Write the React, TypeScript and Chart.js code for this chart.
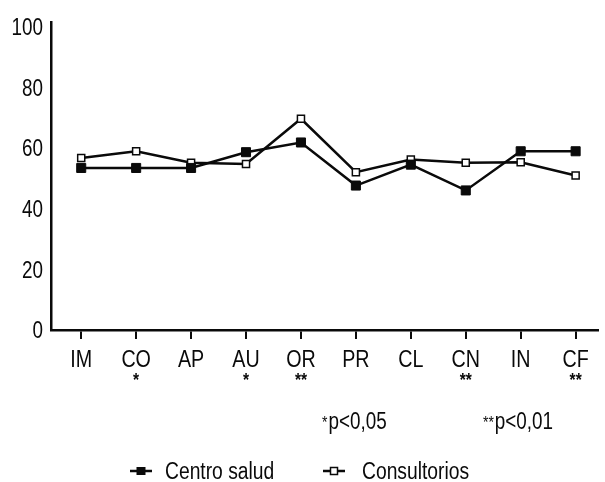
import React, { useEffect, useRef } from "react";
import { Chart, registerables } from "chart.js";

Chart.register(...registerables);

const categories = ["IM", "CO", "AP", "AU", "OR", "PR", "CL", "CN", "IN", "CF"];
const significance = ["", "*", "", "*", "**", "", "", "**", "", "**"];
const centroSalud = [53.4, 53.4, 53.4, 58.6, 61.8, 47.6, 54.5, 46.0, 58.9, 58.9];
const consultorios = [56.7, 58.9, 55.1, 54.7, 69.6, 52.0, 56.2, 55.1, 55.3, 50.9];
const yTicks = [0, 20, 40, 60, 80, 100];
const seriesNames = ["Centro salud", "Consultorios"];
const pStars = ["*", "**"];
const pTexts = ["p<0,05", "p<0,01"];

const FF = "'Liberation Sans', Arial, sans-serif";
const INK = "#0a0a0a";
const NARROW = 0.82;

function narrowText(
  ctx: CanvasRenderingContext2D,
  text: string,
  x: number,
  y: number,
  size: number,
  align: CanvasTextAlign,
  weight = ""
): number {
  ctx.save();
  ctx.font = `${weight} ${size}px ${FF}`;
  ctx.textAlign = align;
  ctx.textBaseline = "alphabetic";
  const w = ctx.measureText(text).width * NARROW;
  ctx.translate(x, y);
  ctx.scale(NARROW, 1);
  ctx.fillText(text, 0, 0);
  ctx.restore();
  return w;
}

const extrasPlugin = {
  id: "extras",
  afterDraw(chart: any) {
    const ctx = chart.ctx as CanvasRenderingContext2D;
    const xs = chart.scales.x;
    const ys = chart.scales.y;
    ctx.save();
    ctx.fillStyle = INK;
    ctx.strokeStyle = INK;
    // y tick labels from the y scale's ticks
    ys.ticks.forEach((t: any) => {
      narrowText(ctx, String(t.value), 43, ys.getPixelForValue(t.value) + 8.3, 23, "right");
    });
    // x tick labels from the x scale's ticks
    xs.ticks.forEach((t: any) => {
      const label = categories[t.value] ?? "";
      narrowText(ctx, label, xs.getPixelForValue(t.value), 366.5, 24, "center");
    });
    // significance asterisks under category labels
    significance.forEach((s, i) => {
      if (!s) return;
      narrowText(ctx, s, xs.getPixelForValue(i), 386, 19, "center", "bold");
    });
    // p-value notes
    const noteX = [322, 483];
    pTexts.forEach((t, i) => {
      const w = narrowText(ctx, pStars[i], noteX[i], 428, 17, "left");
      narrowText(ctx, t, noteX[i] + w + 1, 429, 23, "left");
    });
    // legend
    const legendX = [130, 323];
    const textX = [165, 362];
    const ly = 471;
    seriesNames.forEach((name, i) => {
      ctx.lineWidth = 2.5;
      ctx.beginPath();
      ctx.moveTo(legendX[i], ly);
      ctx.lineTo(legendX[i] + 22, ly);
      ctx.stroke();
      const cx = legendX[i] + 11;
      if (i === 0) {
        ctx.fillRect(cx - 4.5, ly - 4, 9, 8);
      } else {
        ctx.fillStyle = "#fff";
        ctx.fillRect(cx - 3.5, ly - 3.5, 7, 7);
        ctx.fillStyle = INK;
        ctx.lineWidth = 1.5;
        ctx.strokeRect(cx - 3.5, ly - 3.5, 7, 7);
      }
      narrowText(ctx, name, textX[i], ly + 8.3, 23.5, "left");
    });
    ctx.restore();
  },
};

export default function App() {
  const ref = useRef<HTMLCanvasElement | null>(null);

  useEffect(() => {
    if (!ref.current) return;
    const chart = new Chart(ref.current, {
      type: "line",
      data: {
        datasets: [
          {
            label: seriesNames[0],
            data: centroSalud.map((y, i) => ({ x: i, y })),
            borderColor: INK,
            borderWidth: 2.5,
            pointStyle: "rect",
            pointRadius: 6.4,
            pointBackgroundColor: INK,
            pointBorderColor: INK,
            pointBorderWidth: 1,
            tension: 0,
          },
          {
            label: seriesNames[1],
            data: consultorios.map((y, i) => ({ x: i, y })),
            borderColor: INK,
            borderWidth: 2.5,
            pointStyle: "rect",
            pointRadius: 5,
            pointBackgroundColor: "#fff",
            pointBorderColor: INK,
            pointBorderWidth: 1.5,
            tension: 0,
          },
        ],
      },
      options: {
        responsive: false,
        animation: false,
        layout: { padding: { top: 22, right: 4, left: 0, bottom: 0 } },
        plugins: { legend: { display: false }, tooltip: { enabled: false } },
        scales: {
          x: {
            type: "linear",
            min: -0.55,
            max: 9.4,
            afterBuildTicks: (s: any) => {
              s.ticks = categories.map((_, i) => ({ value: i }));
            },
            afterFit: (s: any) => {
              s.height = 152;
            },
            grid: { drawOnChartArea: false, drawTicks: true, tickLength: 9, color: INK, lineWidth: 2 },
            border: { display: true, color: INK, width: 2.5 },
            ticks: { display: false, autoSkip: false },
          },
          y: {
            min: 0,
            max: 101.5,
            afterBuildTicks: (s: any) => {
              s.ticks = yTicks.map((v) => ({ value: v }));
            },
            afterFit: (s: any) => {
              s.width = 51;
            },
            grid: { display: false },
            border: { display: true, color: INK, width: 2.5 },
            ticks: { display: false },
          },
        },
      } as any,
      plugins: [extrasPlugin],
    });
    return () => chart.destroy();
  }, []);

  return (
    <div style={{ position: "fixed", left: 0, top: 0, width: 605, height: 482, background: "#fff" }}>
      <canvas ref={ref} width={605} height={482} style={{ display: "block" }} />
    </div>
  );
}
